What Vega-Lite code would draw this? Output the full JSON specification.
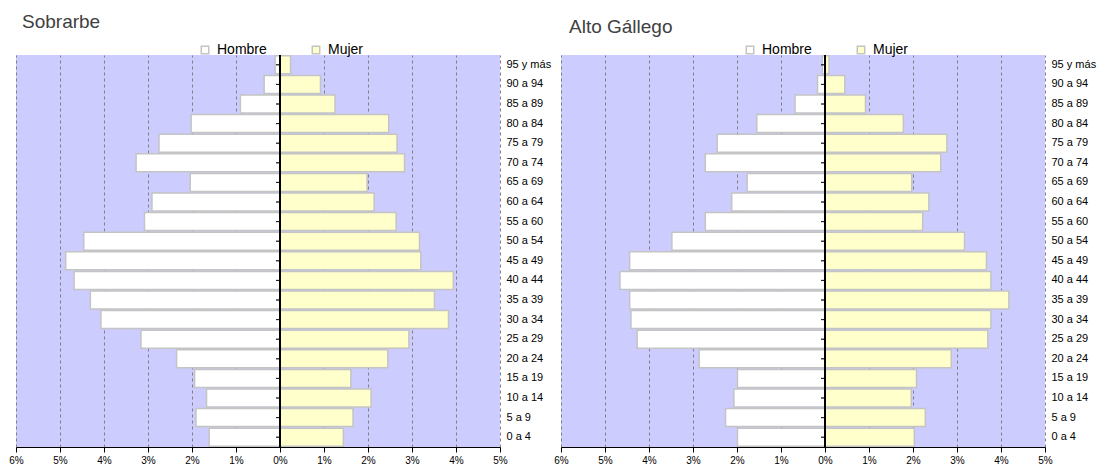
{
  "$schema": "https://vega.github.io/schema/vega-lite/v6.json",
  "background": "white",
  "padding": {"left": 8, "top": 13, "right": 5, "bottom": 5},
  "bounds": "flush",
  "spacing": 61,
  "datasets": {
    "pop": [
      {"region": "Sobrarbe", "age": "95 y más", "sex": "Hombre", "pct": -0.11},
      {"region": "Sobrarbe", "age": "90 a 94", "sex": "Hombre", "pct": -0.36},
      {"region": "Sobrarbe", "age": "85 a 89", "sex": "Hombre", "pct": -0.90},
      {"region": "Sobrarbe", "age": "80 a 84", "sex": "Hombre", "pct": -2.02},
      {"region": "Sobrarbe", "age": "75 a 79", "sex": "Hombre", "pct": -2.75},
      {"region": "Sobrarbe", "age": "70 a 74", "sex": "Hombre", "pct": -3.27},
      {"region": "Sobrarbe", "age": "65 a 69", "sex": "Hombre", "pct": -2.04},
      {"region": "Sobrarbe", "age": "60 a 64", "sex": "Hombre", "pct": -2.91},
      {"region": "Sobrarbe", "age": "55 a 60", "sex": "Hombre", "pct": -3.08},
      {"region": "Sobrarbe", "age": "50 a 54", "sex": "Hombre", "pct": -4.46},
      {"region": "Sobrarbe", "age": "45 a 49", "sex": "Hombre", "pct": -4.87},
      {"region": "Sobrarbe", "age": "40 a 44", "sex": "Hombre", "pct": -4.68},
      {"region": "Sobrarbe", "age": "35 a 39", "sex": "Hombre", "pct": -4.31},
      {"region": "Sobrarbe", "age": "30 a 34", "sex": "Hombre", "pct": -4.07},
      {"region": "Sobrarbe", "age": "25 a 29", "sex": "Hombre", "pct": -3.16},
      {"region": "Sobrarbe", "age": "20 a 24", "sex": "Hombre", "pct": -2.35},
      {"region": "Sobrarbe", "age": "15 a 19", "sex": "Hombre", "pct": -1.94},
      {"region": "Sobrarbe", "age": "10 a 14", "sex": "Hombre", "pct": -1.67},
      {"region": "Sobrarbe", "age": "5 a 9", "sex": "Hombre", "pct": -1.91},
      {"region": "Sobrarbe", "age": "0 a 4", "sex": "Hombre", "pct": -1.61},
      {"region": "Sobrarbe", "age": "95 y más", "sex": "Mujer", "pct": 0.24},
      {"region": "Sobrarbe", "age": "90 a 94", "sex": "Mujer", "pct": 0.92},
      {"region": "Sobrarbe", "age": "85 a 89", "sex": "Mujer", "pct": 1.25},
      {"region": "Sobrarbe", "age": "80 a 84", "sex": "Mujer", "pct": 2.47},
      {"region": "Sobrarbe", "age": "75 a 79", "sex": "Mujer", "pct": 2.66},
      {"region": "Sobrarbe", "age": "70 a 74", "sex": "Mujer", "pct": 2.83},
      {"region": "Sobrarbe", "age": "65 a 69", "sex": "Mujer", "pct": 1.98},
      {"region": "Sobrarbe", "age": "60 a 64", "sex": "Mujer", "pct": 2.14},
      {"region": "Sobrarbe", "age": "55 a 60", "sex": "Mujer", "pct": 2.64},
      {"region": "Sobrarbe", "age": "50 a 54", "sex": "Mujer", "pct": 3.17},
      {"region": "Sobrarbe", "age": "45 a 49", "sex": "Mujer", "pct": 3.20},
      {"region": "Sobrarbe", "age": "40 a 44", "sex": "Mujer", "pct": 3.94},
      {"region": "Sobrarbe", "age": "35 a 39", "sex": "Mujer", "pct": 3.51},
      {"region": "Sobrarbe", "age": "30 a 34", "sex": "Mujer", "pct": 3.83},
      {"region": "Sobrarbe", "age": "25 a 29", "sex": "Mujer", "pct": 2.93},
      {"region": "Sobrarbe", "age": "20 a 24", "sex": "Mujer", "pct": 2.45},
      {"region": "Sobrarbe", "age": "15 a 19", "sex": "Mujer", "pct": 1.61},
      {"region": "Sobrarbe", "age": "10 a 14", "sex": "Mujer", "pct": 2.07},
      {"region": "Sobrarbe", "age": "5 a 9", "sex": "Mujer", "pct": 1.66},
      {"region": "Sobrarbe", "age": "0 a 4", "sex": "Mujer", "pct": 1.44},
      {"region": "Alto Gállego", "age": "95 y más", "sex": "Hombre", "pct": -0.06},
      {"region": "Alto Gállego", "age": "90 a 94", "sex": "Hombre", "pct": -0.17},
      {"region": "Alto Gállego", "age": "85 a 89", "sex": "Hombre", "pct": -0.68},
      {"region": "Alto Gállego", "age": "80 a 84", "sex": "Hombre", "pct": -1.55},
      {"region": "Alto Gállego", "age": "75 a 79", "sex": "Hombre", "pct": -2.45},
      {"region": "Alto Gállego", "age": "70 a 74", "sex": "Hombre", "pct": -2.72},
      {"region": "Alto Gállego", "age": "65 a 69", "sex": "Hombre", "pct": -1.77},
      {"region": "Alto Gállego", "age": "60 a 64", "sex": "Hombre", "pct": -2.12},
      {"region": "Alto Gállego", "age": "55 a 60", "sex": "Hombre", "pct": -2.72},
      {"region": "Alto Gállego", "age": "50 a 54", "sex": "Hombre", "pct": -3.48},
      {"region": "Alto Gállego", "age": "45 a 49", "sex": "Hombre", "pct": -4.44},
      {"region": "Alto Gállego", "age": "40 a 44", "sex": "Hombre", "pct": -4.66},
      {"region": "Alto Gállego", "age": "35 a 39", "sex": "Hombre", "pct": -4.44},
      {"region": "Alto Gállego", "age": "30 a 34", "sex": "Hombre", "pct": -4.41},
      {"region": "Alto Gállego", "age": "25 a 29", "sex": "Hombre", "pct": -4.27},
      {"region": "Alto Gállego", "age": "20 a 24", "sex": "Hombre", "pct": -2.86},
      {"region": "Alto Gállego", "age": "15 a 19", "sex": "Hombre", "pct": -1.99},
      {"region": "Alto Gállego", "age": "10 a 14", "sex": "Hombre", "pct": -2.07},
      {"region": "Alto Gállego", "age": "5 a 9", "sex": "Hombre", "pct": -2.26},
      {"region": "Alto Gállego", "age": "0 a 4", "sex": "Hombre", "pct": -1.99},
      {"region": "Alto Gállego", "age": "95 y más", "sex": "Mujer", "pct": 0.09},
      {"region": "Alto Gállego", "age": "90 a 94", "sex": "Mujer", "pct": 0.45},
      {"region": "Alto Gállego", "age": "85 a 89", "sex": "Mujer", "pct": 0.92},
      {"region": "Alto Gállego", "age": "80 a 84", "sex": "Mujer", "pct": 1.78},
      {"region": "Alto Gállego", "age": "75 a 79", "sex": "Mujer", "pct": 2.77},
      {"region": "Alto Gállego", "age": "70 a 74", "sex": "Mujer", "pct": 2.63},
      {"region": "Alto Gállego", "age": "65 a 69", "sex": "Mujer", "pct": 1.97},
      {"region": "Alto Gállego", "age": "60 a 64", "sex": "Mujer", "pct": 2.36},
      {"region": "Alto Gállego", "age": "55 a 60", "sex": "Mujer", "pct": 2.22},
      {"region": "Alto Gállego", "age": "50 a 54", "sex": "Mujer", "pct": 3.17},
      {"region": "Alto Gállego", "age": "45 a 49", "sex": "Mujer", "pct": 3.67},
      {"region": "Alto Gállego", "age": "40 a 44", "sex": "Mujer", "pct": 3.77},
      {"region": "Alto Gállego", "age": "35 a 39", "sex": "Mujer", "pct": 4.18},
      {"region": "Alto Gállego", "age": "30 a 34", "sex": "Mujer", "pct": 3.77},
      {"region": "Alto Gállego", "age": "25 a 29", "sex": "Mujer", "pct": 3.70},
      {"region": "Alto Gállego", "age": "20 a 24", "sex": "Mujer", "pct": 2.87},
      {"region": "Alto Gállego", "age": "15 a 19", "sex": "Mujer", "pct": 2.08},
      {"region": "Alto Gállego", "age": "10 a 14", "sex": "Mujer", "pct": 1.96},
      {"region": "Alto Gállego", "age": "5 a 9", "sex": "Mujer", "pct": 2.28},
      {"region": "Alto Gállego", "age": "0 a 4", "sex": "Mujer", "pct": 2.03}
    ]
  },
  "resolve": {"scale": {"fill": "independent"}, "legend": {"fill": "independent"}},
  "hconcat": [
    {
      "width": 484,
      "height": 392,
      "title": {"text": "Sobrarbe", "anchor": "start", "frame": "group", "dx": 6, "offset": 11},
      "data": {"name": "pop"},
      "transform": [{"filter": "datum.region === 'Sobrarbe'"}],
      "layer": [
        {
          "mark": {"type": "bar", "stroke": "#c4c4c4", "strokeWidth": 1.5},
          "encoding": {
            "y": {"field": "age", "type": "nominal", "sort": ["95 y más","90 a 94","85 a 89","80 a 84","75 a 79","70 a 74","65 a 69","60 a 64","55 a 60","50 a 54","45 a 49","40 a 44","35 a 39","30 a 34","25 a 29","20 a 24","15 a 19","10 a 14","5 a 9","0 a 4"], "scale": {"paddingInner": 0.08, "paddingOuter": 0.04}, "axis": {"orient": "right", "title": null, "domain": false, "ticks": false, "labelPadding": 6, "labelFontSize": 11, "labelFont": "Liberation Sans", "labelColor": "#000000"}},
            "x": {"field": "pct", "type": "quantitative", "scale": {"domain": [-6, 5], "nice": false}, "axis": {"title": null, "values": [-6,-5,-4,-3,-2,-1,0,1,2,3,4,5], "labelExpr": "abs(datum.value) + '%'", "labelFlush": false, "labelFontSize": 10, "labelFont": "Liberation Sans", "labelColor": "#000000", "domainColor": "#000000", "tickColor": "#000000", "tickSize": 5, "labelPadding": 3, "grid": true, "gridColor": "#808080", "gridDash": [3, 3], "gridWidth": 1}},
            "fill": {"field": "sex", "type": "nominal", "scale": {"domain": ["Hombre", "Mujer"], "range": ["#ffffff", "#ffffcc"]}, "legend": {"orient": "none", "legendX": 182, "legendY": -12, "direction": "horizontal", "title": null, "symbolType": "square", "symbolSize": 56, "labelFontSize": 14, "labelFont": "Liberation Sans", "labelColor": "#000000", "labelOffset": 5, "columnPadding": 42, "encode": {"symbols": {"update": {"stroke": {"value": "#999999"}, "strokeWidth": {"value": 1}}}}}}
          }
        },
        {
          "mark": {"type": "rule", "color": "#000000", "strokeWidth": 1.2},
          "encoding": {"x": {"datum": 0}}
        },
        {
          "mark": {"type": "tick", "orient": "horizontal", "color": "#000000", "size": 4, "thickness": 1, "xOffset": -2},
          "encoding": {
            "y": {"field": "age", "type": "nominal", "sort": ["95 y más","90 a 94","85 a 89","80 a 84","75 a 79","70 a 74","65 a 69","60 a 64","55 a 60","50 a 54","45 a 49","40 a 44","35 a 39","30 a 34","25 a 29","20 a 24","15 a 19","10 a 14","5 a 9","0 a 4"]},
            "x": {"datum": 0}
          }
        }
      ]
    },
    {
      "width": 484,
      "height": 392,
      "title": {"text": "Alto Gállego", "anchor": "start", "frame": "group", "dx": 8, "offset": 6},
      "data": {"name": "pop"},
      "transform": [{"filter": "datum.region === 'Alto Gállego'"}],
      "layer": [
        {
          "mark": {"type": "bar", "stroke": "#c4c4c4", "strokeWidth": 1.5},
          "encoding": {
            "y": {"field": "age", "type": "nominal", "sort": ["95 y más","90 a 94","85 a 89","80 a 84","75 a 79","70 a 74","65 a 69","60 a 64","55 a 60","50 a 54","45 a 49","40 a 44","35 a 39","30 a 34","25 a 29","20 a 24","15 a 19","10 a 14","5 a 9","0 a 4"], "scale": {"paddingInner": 0.08, "paddingOuter": 0.04}, "axis": {"orient": "right", "title": null, "domain": false, "ticks": false, "labelPadding": 6, "labelFontSize": 11, "labelFont": "Liberation Sans", "labelColor": "#000000"}},
            "x": {"field": "pct", "type": "quantitative", "scale": {"domain": [-6, 5], "nice": false}, "axis": {"title": null, "values": [-6,-5,-4,-3,-2,-1,0,1,2,3,4,5], "labelExpr": "abs(datum.value) + '%'", "labelFlush": false, "labelFontSize": 10, "labelFont": "Liberation Sans", "labelColor": "#000000", "domainColor": "#000000", "tickColor": "#000000", "tickSize": 5, "labelPadding": 3, "grid": true, "gridColor": "#808080", "gridDash": [3, 3], "gridWidth": 1}},
            "fill": {"field": "sex", "type": "nominal", "scale": {"domain": ["Hombre", "Mujer"], "range": ["#ffffff", "#ffffcc"]}, "legend": {"orient": "none", "legendX": 182, "legendY": -12, "direction": "horizontal", "title": null, "symbolType": "square", "symbolSize": 56, "labelFontSize": 14, "labelFont": "Liberation Sans", "labelColor": "#000000", "labelOffset": 5, "columnPadding": 42, "encode": {"symbols": {"update": {"stroke": {"value": "#999999"}, "strokeWidth": {"value": 1}}}}}}
          }
        },
        {
          "mark": {"type": "rule", "color": "#000000", "strokeWidth": 1.2},
          "encoding": {"x": {"datum": 0}}
        },
        {
          "mark": {"type": "tick", "orient": "horizontal", "color": "#000000", "size": 4, "thickness": 1, "xOffset": -2},
          "encoding": {
            "y": {"field": "age", "type": "nominal", "sort": ["95 y más","90 a 94","85 a 89","80 a 84","75 a 79","70 a 74","65 a 69","60 a 64","55 a 60","50 a 54","45 a 49","40 a 44","35 a 39","30 a 34","25 a 29","20 a 24","15 a 19","10 a 14","5 a 9","0 a 4"]},
            "x": {"datum": 0}
          }
        }
      ]
    }
  ],
  "config": {
    "view": {"fill": "#ccccff", "stroke": null},
    "title": {"font": "Liberation Sans", "fontSize": 19, "fontWeight": "normal", "color": "#404040"}
  }
}
